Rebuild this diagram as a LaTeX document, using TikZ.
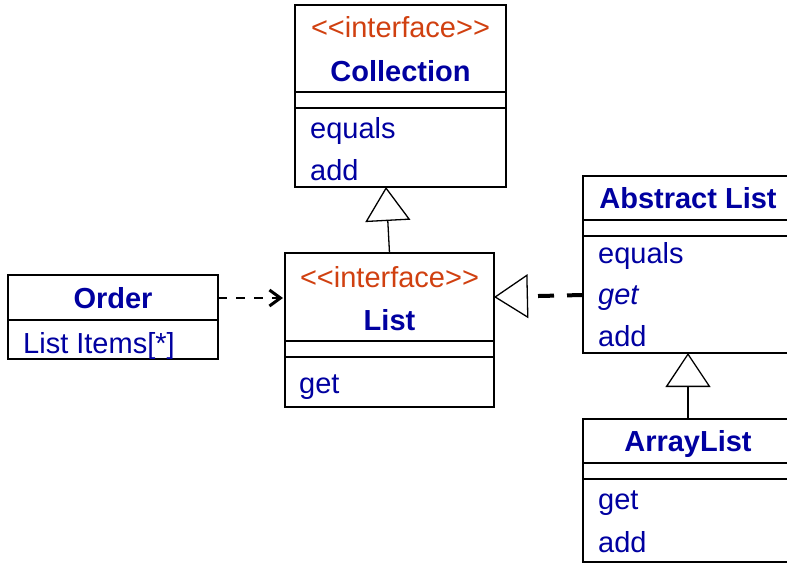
\documentclass[tikz,border=0pt]{standalone}
\usepackage{fontspec}
\setmainfont{Liberation Sans}[Ligatures=TeXOff]
\usetikzlibrary{arrows.meta}

\definecolor{umlblue}{RGB}{0,0,160}
\definecolor{umlorange}{RGB}{208,64,16}

\newcommand{\umlsize}{\fontsize{29}{34}\selectfont}

\tikzset{
  classbox/.style={draw=black, line width=1.3pt, rectangle, inner sep=0pt, outer sep=0pt, anchor=north west},
  divider/.style={draw=black, line width=1.3pt},
  stereo/.style={text=umlorange, font=\umlsize, anchor=base, inner sep=0pt},
  cname/.style={text=umlblue, font=\umlsize\bfseries, anchor=base, inner sep=0pt},
  member/.style={text=umlblue, font=\umlsize, anchor=base west, inner sep=0pt},
  inherit/.style={draw=black, line width=1.3pt,
    -{Triangle[open, length=34pt, width=45pt, line width=1.3pt]}},
  realize/.style={draw=black, line width=4pt, dash pattern=on 16pt off 13pt,
    -{Triangle[open, length=34pt, width=44pt, line width=1.3pt]}},
  depend/.style={draw=black, line width=2.6pt, dash pattern=on 9pt off 9pt,
    -{Straight Barb[length=11pt, width=16pt, line width=3pt]}, shorten >=2pt},
}

\begin{document}
\begin{tikzpicture}[x=1pt, y=-1pt]
\useasboundingbox (0,0) rectangle (787,565);
\clip (0,0) rectangle (787,565);

% interface Collection
\node[classbox, minimum width=211pt, minimum height=182pt] (coll) at (295,5) {};
\node[stereo] (collst) at (400.5,37) {<<interface>>};
\node[cname] (collname) at (400.5,81) {Collection};
\draw[divider] (295,92) -- (506,92);
\draw[divider] (295,108) -- (506,108);
\node[member] (collm1) at (310,138) {equals};
\node[member] (collm2) at (310,180) {add};

% interface List
\node[classbox, minimum width=209pt, minimum height=154pt] (list) at (285,253) {};
\node[stereo] (listst) at (389.5,287) {<<interface>>};
\node[cname] (listname) at (389.5,330) {List};
\draw[divider] (285,341) -- (494,341);
\draw[divider] (285,357) -- (494,357);
\node[member] (listm1) at (299,393) {get};

% class Order
\node[classbox, minimum width=210pt, minimum height=84pt] (order) at (8,275) {};
\node[cname] (ordername) at (113,308) {Order};
\draw[divider] (8,320) -- (218,320);
\node[member] (orderm1) at (23,353) {List Items[*]};

% class Abstract List
\node[classbox, minimum width=210pt, minimum height=177pt] (abs) at (583,176) {};
\node[cname] (absname) at (688,208) {Abstract List};
\draw[divider] (583,220) -- (793,220);
\draw[divider] (583,236) -- (793,236);
\node[member] (absm1) at (598,263) {equals};
\node[member] (absm2) at (598,304) {\itshape get};
\node[member] (absm3) at (598,346) {add};

% class ArrayList
\node[classbox, minimum width=210pt, minimum height=143pt] (arr) at (583,419) {};
\node[cname] (arrname) at (688,451) {ArrayList};
\draw[divider] (583,463) -- (793,463);
\draw[divider] (583,479) -- (793,479);
\node[member] (arrm1) at (598,509) {get};
\node[member] (arrm2) at (598,552) {add};

% connector end points on the box borders
\coordinate (collTip) at ([xshift=-14.5pt]coll.south);
\coordinate (absLeft) at ([yshift=-30.5pt]abs.west);
\coordinate (listRight) at ([yshift=33pt]list.east);
\coordinate (orderRight) at ([yshift=19pt]order.east);
\coordinate (listLeft) at ([yshift=32pt]list.west);

% relations
\draw[inherit] (list.north) -- (collTip);
\draw[inherit] (arr.north) -- (abs.south);
\draw[realize] (absLeft) -- (listRight);
\draw[depend] (orderRight) -- (listLeft);
\end{tikzpicture}
\end{document}
